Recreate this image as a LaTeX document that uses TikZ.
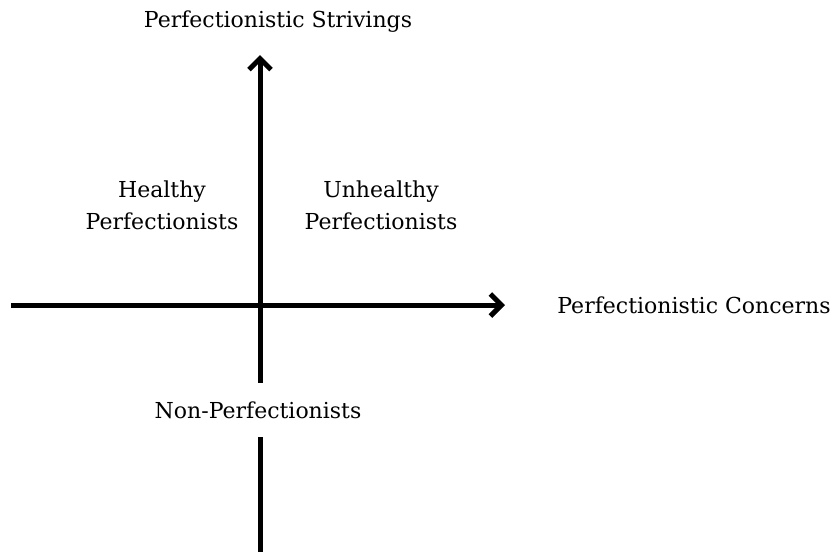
\documentclass[tikz,border=0pt]{standalone}
\usepackage{fontspec}
\setmainfont{DejaVu Serif}
\usetikzlibrary{arrows.meta}
\begin{document}
\begin{tikzpicture}[x=1pt,y=-1pt,
  axis/.style={line width=5pt, -{Straight Barb[length=11pt,width=22pt,line width=5pt]}},
  plainaxis/.style={line width=5pt},
  lbl/.style={font=\fontsize{22}{32}\selectfont, align=center, inner sep=0pt}]
  \useasboundingbox (0,0) rectangle (836,552);
  % axis end points
  \coordinate (xl) at (11,305);
  \coordinate (xr) at (505,305);
  \coordinate (yt) at (260,55);
  \coordinate (yb) at (260,552);
  % labels
  \node[lbl] (ps) at (278,22) {Perfectionistic Strivings};
  \node[lbl] (pc) at (694,305) {Perfectionistic Concerns};
  \node[lbl] (hp) at (162,205) {Healthy\\Perfectionists};
  \node[lbl] (up) at (381,205) {Unhealthy\\Perfectionists};
  \node[lbl, inner ysep=18.5pt] (np) at (258,410) {Non-Perfectionists};
  % axes
  \draw[axis] (xl) -- (xr);
  \draw[axis] (260,0 |- np.north) -- (yt);
  \draw[plainaxis] (260,0 |- np.south) -- (yb);
\end{tikzpicture}
\end{document}
